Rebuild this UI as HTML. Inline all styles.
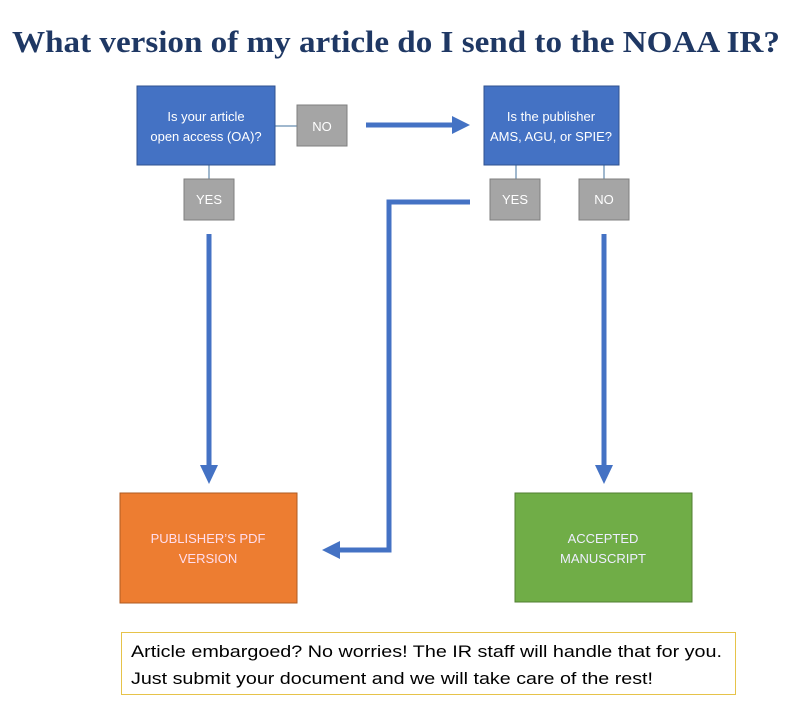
<!DOCTYPE html>
<html><head><style>
body{margin:0;background:#fff;}
svg{display:block}
</style></head><body>
<svg width="808" height="713" viewBox="0 0 808 713" xmlns="http://www.w3.org/2000/svg">
<text x="12" y="52" textLength="768" lengthAdjust="spacingAndGlyphs" font-family="Liberation Serif, serif" font-weight="bold" font-size="31" fill="#1f3864">What version of my article do I send to the NOAA IR?</text>
<g stroke="#41719c" stroke-width="1">
<line x1="275" y1="126" x2="297" y2="126"/>
<line x1="209" y1="165" x2="209" y2="179"/>
<line x1="516" y1="165" x2="516" y2="179"/>
<line x1="604" y1="165" x2="604" y2="179"/>
</g>
<g font-family="Liberation Sans, sans-serif" font-size="13" text-anchor="middle">
<rect x="137" y="86" width="138" height="79" fill="#4472c4" stroke="#2f528f"/>
<text x="206" y="121" fill="#fff">Is your article</text>
<text x="206" y="141" fill="#fff">open access (OA)?</text>
<rect x="484" y="86" width="135" height="79" fill="#4472c4" stroke="#2f528f"/>
<text x="551" y="121" fill="#fff">Is the publisher</text>
<text x="551" y="141" fill="#fff">AMS, AGU, or SPIE?</text>
<rect x="297" y="105" width="50" height="41" fill="#a5a5a5" stroke="#7f7f7f"/>
<text x="322" y="131" fill="#fff">NO</text>
<rect x="184" y="179" width="50" height="41" fill="#a5a5a5" stroke="#7f7f7f"/>
<text x="209" y="204" fill="#fff">YES</text>
<rect x="490" y="179" width="50" height="41" fill="#a5a5a5" stroke="#7f7f7f"/>
<text x="515" y="204" fill="#fff">YES</text>
<rect x="579" y="179" width="50" height="41" fill="#a5a5a5" stroke="#7f7f7f"/>
<text x="604" y="204" fill="#fff">NO</text>
<rect x="120" y="493" width="177" height="110" fill="#ed7d31" stroke="#ae5a21"/>
<text x="208" y="543" fill="#fde">PUBLISHER’S PDF</text>
<text x="208" y="563" fill="#fde">VERSION</text>
<rect x="515" y="493" width="177" height="109" fill="#70ad47" stroke="#507e32"/>
<text x="603" y="543" fill="#eef">ACCEPTED</text>
<text x="603" y="563" fill="#eef">MANUSCRIPT</text>
</g>
<g stroke="#4472c4" stroke-width="5" fill="none">
<line x1="366" y1="125" x2="455" y2="125"/>
<line x1="209" y1="234" x2="209" y2="468"/>
<line x1="604" y1="234" x2="604" y2="468"/>
<polyline points="470,202 389,202 389,550 337,550"/>
</g>
<g fill="#4472c4">
<polygon points="452,116 470,125 452,134"/>
<polygon points="200,465 218,465 209,484"/>
<polygon points="595,465 613,465 604,484"/>
<polygon points="340,541 340,559 322,550"/>
</g>
<rect x="121.5" y="632.5" width="614" height="62" fill="#fff" stroke="#e6c34a"/>
<g font-family="Liberation Sans, sans-serif" font-size="17" fill="#000" lengthAdjust="spacingAndGlyphs">
<text x="131" y="657" textLength="591" lengthAdjust="spacingAndGlyphs">Article embargoed? No worries! The IR staff will handle that for you.</text>
<text x="131" y="684" textLength="522" lengthAdjust="spacingAndGlyphs">Just submit your document and we will take care of the rest!</text>
</g>
</svg>
</body></html>
